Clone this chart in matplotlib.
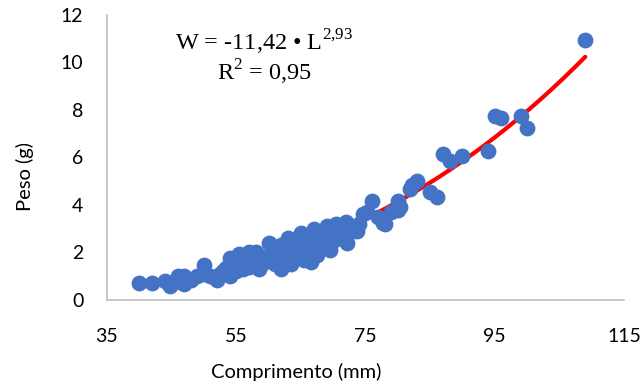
import numpy as np
import matplotlib
matplotlib.use("Agg")
import matplotlib.pyplot as plt

plt.rcParams["mathtext.fontset"] = "custom"
plt.rcParams["mathtext.rm"] = "Liberation Serif"

# comprimento (mm) e peso (g)
comprimento = [40.0, 42.0, 44.0, 44.8, 45.5, 46.0, 47.0, 47.0, 48.0, 49.0,
               50.0, 50.0, 51.0, 52.0, 52.5, 53.0, 53.5, 54.0, 54.0, 55.0,
               55.0, 55.5, 56.0, 56.5, 57.0, 57.0, 58.0, 58.0, 58.5, 59.0,
               59.0, 60.0, 60.0, 60.5, 61.0, 61.0, 61.5, 62.0, 62.0, 62.5,
               63.0, 63.0, 63.5, 64.0, 64.0, 64.5, 65.0, 65.0, 65.5, 66.0,
               66.0, 66.5, 67.0, 67.0, 67.5, 68.0, 68.0, 68.5, 69.0, 69.0,
               69.5, 70.0, 70.0, 70.5, 71.0, 71.5, 72.0, 72.2, 73.0, 73.7,
               74.0, 74.6, 75.2, 76.0, 77.0, 77.7, 78.0, 79.0, 80.0, 80.0,
               80.4, 81.9, 82.2, 83.0, 85.0, 86.0, 87.0, 88.0, 90.0, 94.0,
               95.0, 96.0, 99.0, 100.0, 109.0]
peso = [0.70, 0.70, 0.80, 0.60, 0.75, 1.00, 1.00, 0.65, 0.85, 1.00,
        1.45, 1.10, 1.00, 0.85, 1.10, 1.20, 1.35, 1.75, 1.00, 1.20,
        1.60, 1.95, 1.30, 1.50, 2.00, 1.40, 2.00, 1.60, 1.30, 1.80,
        1.50, 2.40, 1.70, 2.00, 1.50, 2.10, 1.80, 1.30, 2.30, 1.70,
        2.60, 2.00, 1.50, 2.30, 1.80, 2.60, 2.80, 2.10, 1.70, 2.50,
        2.00, 1.60, 3.00, 2.30, 1.90, 2.70, 2.20, 2.90, 3.10, 2.40,
        2.10, 2.80, 2.50, 3.20, 2.60, 3.00, 3.30, 2.40, 2.90, 2.90,
        3.20, 3.60, 3.70, 4.15, 3.50, 3.25, 3.20, 3.70, 4.15, 3.80,
        3.90, 4.65, 4.85, 5.00, 4.55, 4.35, 6.15, 5.85, 6.05, 6.25,
        7.75, 7.65, 7.75, 7.25, 10.95]

ln_a = -11.42
b = 2.93

fig = plt.figure(figsize=(6.44, 3.92), dpi=100)
ax = fig.add_axes([0.166, 0.235, 0.803, 0.727])

L = np.linspace(min(comprimento), max(comprimento), 200)
ax.plot(L, np.exp(ln_a) * L ** b, color="#FF0000", lw=3, zorder=2,
        solid_capstyle="round")
ax.scatter(comprimento, peso, s=130, color="#4472C4", zorder=3, linewidths=0)

ax.set_xlim(35, 115)
ax.set_ylim(0, 12)
ax.set_xticks([35, 55, 75, 95, 115])
ax.set_yticks(range(0, 13, 2))

for s in ["top", "right"]:
    ax.spines[s].set_visible(False)
for s in ["left", "bottom"]:
    ax.spines[s].set_color("#BFBFBF")
    ax.spines[s].set_linewidth(1.2)

ax.tick_params(axis="both", length=0, labelsize=14)
ax.tick_params(axis="x", pad=20)
ax.tick_params(axis="y", pad=17)
for t in ax.get_xticklabels() + ax.get_yticklabels():
    t.set_family("Lato")

ax.set_xlabel("Comprimento (mm)", fontsize=14.5, family="Lato", va="center")
ax.set_ylabel("Peso (g)", fontsize=14.5, family="Lato", va="center")
ax.xaxis.set_label_coords(0.366, -0.253)
ax.yaxis.set_label_coords(-0.159, 0.432)

ax.text(0.304, 0.905, r"W = -11,42 • L$^{2{,}93}$", transform=ax.transAxes,
        ha="center", va="center", fontsize=17.5, family="Liberation Serif")
ax.text(0.304, 0.80, r"R$^{2}$ = 0,95", transform=ax.transAxes,
        ha="center", va="center", fontsize=17.5, family="Liberation Serif")

fig.savefig("out.png", dpi=100)
